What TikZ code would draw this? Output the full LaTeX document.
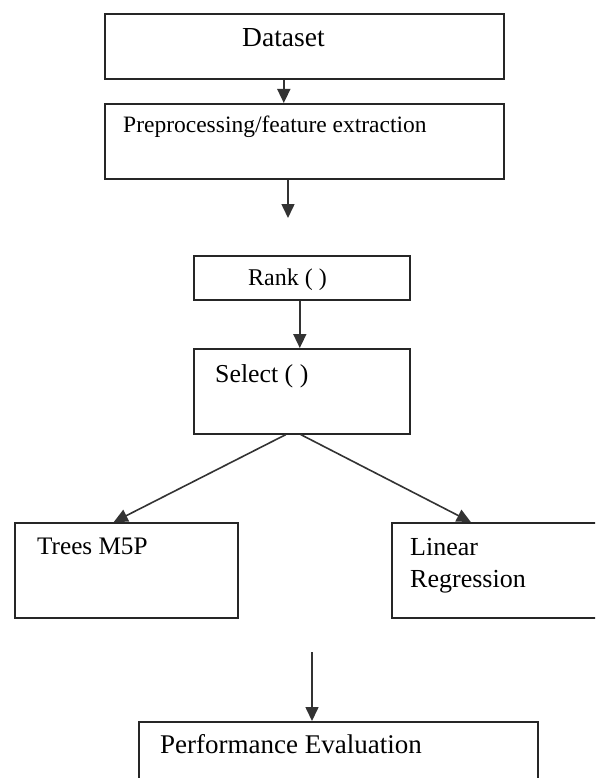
\documentclass[tikz,border=0pt]{standalone}
\usepackage{fontspec}
\setmainfont{Liberation Serif}
\usetikzlibrary{arrows.meta}
\begin{document}
\begin{tikzpicture}[x=1pt, y=-1pt,
  box/.style={draw=black!85, line width=1.6pt, anchor=north west, inner sep=0pt},
  lbl/.style={anchor=base west, inner sep=0pt, font=\fontsize{#1}{#1}\selectfont},
  lbl/.default=25,
  arr/.style={draw=black!80, line width=1.6pt, -{Triangle[width=13pt,length=14pt]}}
]
\useasboundingbox (0,0) rectangle (595,778);
\clip (0,0) rectangle (595,778);
\fill[white] (0,0) rectangle (595,778);

% boxes
\node[box, minimum width=399pt, minimum height=65pt] (data)   at (104,13)  {};
\node[box, minimum width=399pt, minimum height=75pt] (prep)   at (104,103) {};
\node[box, minimum width=216pt, minimum height=44pt] (rank)   at (193,255) {};
\node[box, minimum width=216pt, minimum height=85pt] (select) at (193,348) {};
\node[box, minimum width=223pt, minimum height=95pt] (trees)  at (14,522)  {};
\node[box, minimum width=215pt, minimum height=95pt] (linreg) at (391,522) {};
\node[box, minimum width=399pt, minimum height=100pt] (perf)  at (138,721) {};

% labels
\node[lbl=27.5] (tdata)   at (242,47)  {Dataset};
\node[lbl=23.5] (tprep)   at (123,133) {Preprocessing/feature extraction};
\node[lbl=24]   (trank)   at (248,285) {Rank ( )};
\node[lbl=25.8] (tselect) at (215,382) {Select ( )};
\node[lbl=25.2] (ttrees)  at (37,554)  {Trees M5P};
\node[lbl=26]   (tlin)    at (410,555) {Linear};
\node[lbl=26]   (treg)    at (410,587) {Regression};
\node[lbl=27]   (tperf)   at (160,753) {Performance Evaluation};

% free ends of the open arrows
\coordinate (prepout) at (288,218);
\coordinate (perfin)  at (312,652);

% connectors
\draw[arr] ([xshift=-20.5pt]data.south) -- ([xshift=-20.5pt]prep.north);
\draw[arr] (prep.south -| prepout) -- (prepout);
\draw[arr] ([xshift=-2pt]rank.south) -- ([xshift=-2pt]select.north);
\draw[arr] ([xshift=-16pt]select.south) -- ([xshift=-12.5pt]trees.north);
\draw[arr] ([xshift=-1pt]select.south) -- ([xshift=-28.5pt]linreg.north);
\draw[arr] (perfin) -- (perf.north -| perfin);
\end{tikzpicture}
\end{document}
